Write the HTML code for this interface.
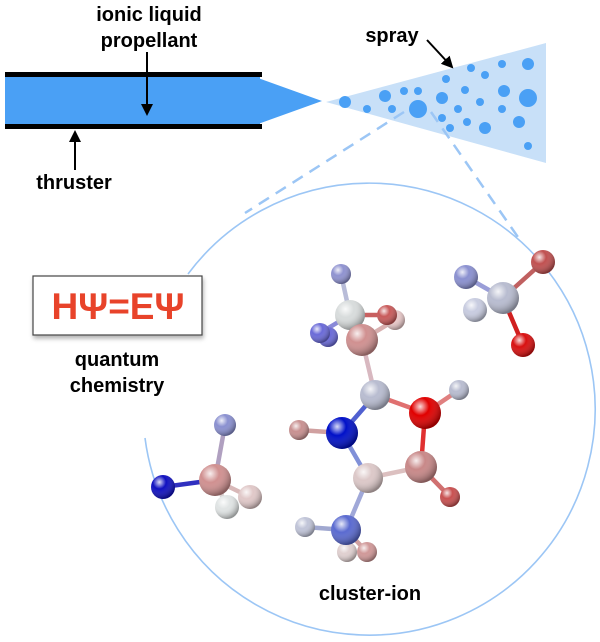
<!DOCTYPE html>
<html><head><meta charset="utf-8"><style>
body{margin:0;background:#fff;}
svg{display:block;font-family:"Liberation Sans",sans-serif;font-weight:bold;}
</style></head><body>
<svg width="600" height="642" viewBox="0 0 600 642" xmlns="http://www.w3.org/2000/svg">
<defs>
<marker id="ah" markerWidth="12" markerHeight="12" refX="10" refY="6" orient="auto" markerUnits="userSpaceOnUse"><path d="M0,0 L12,6 L0,12 z" fill="#000"/></marker>
<filter id="sh" x="-10%" y="-10%" width="130%" height="140%"><feDropShadow dx="1" dy="3" stdDeviation="2" flood-color="#000" flood-opacity="0.3"/></filter>
<radialGradient id="g" cx="35%" cy="30%" r="70%"><stop offset="0" stop-color="#fff" stop-opacity="0.85"/><stop offset="0.4" stop-color="#fff" stop-opacity="0"/><stop offset="1" stop-color="#000" stop-opacity="0.35"/></radialGradient>
</defs>
<rect x="5" y="77" width="255" height="48" fill="#4aa0f5"/>
<polygon points="258,78 258,124 322,101" fill="#4aa0f5"/>
<rect x="5" y="72" width="257" height="5" fill="#000"/>
<rect x="5" y="124" width="257" height="5" fill="#000"/>
<polygon points="326,102 546,43 546,163" fill="#c8e0f8"/>
<g fill="#4aa0f5">
<circle cx="345" cy="102" r="6"/><circle cx="367" cy="109" r="4"/><circle cx="385" cy="96" r="6"/><circle cx="392" cy="109" r="4"/><circle cx="404" cy="91" r="4"/><circle cx="418" cy="91" r="4"/><circle cx="418" cy="109" r="9"/><circle cx="442" cy="98" r="6"/><circle cx="442" cy="118" r="4"/><circle cx="446" cy="79" r="4"/><circle cx="450" cy="128" r="4"/><circle cx="458" cy="109" r="4"/><circle cx="465" cy="90" r="4"/><circle cx="467" cy="122" r="4"/><circle cx="471" cy="68" r="4"/><circle cx="480" cy="102" r="4"/><circle cx="485" cy="75" r="4"/><circle cx="485" cy="128" r="6"/><circle cx="502" cy="64" r="4"/><circle cx="504" cy="91" r="6"/><circle cx="502" cy="109" r="4"/><circle cx="519" cy="122" r="6"/><circle cx="528" cy="64" r="6"/><circle cx="528" cy="98" r="9"/><circle cx="528" cy="146" r="4"/>
</g>
<line x1="404" y1="112" x2="245" y2="213" stroke="#9cc6f5" stroke-width="2.5" stroke-dasharray="12,8"/>
<line x1="431" y1="112" x2="520" y2="240" stroke="#9cc6f5" stroke-width="2.5" stroke-dasharray="12,8"/>
<path d="M145,438 A226,226 0 1 0 188,274" fill="none" stroke="#9cc6f5" stroke-width="1.6"/>
<text x="149" y="21" font-size="20" text-anchor="middle">ionic liquid</text>
<text x="149" y="47" font-size="20" text-anchor="middle">propellant</text>
<line x1="147" y1="52" x2="147" y2="114" stroke="#000" stroke-width="2" marker-end="url(#ah)"/>
<line x1="75" y1="170" x2="75" y2="132" stroke="#000" stroke-width="2" marker-end="url(#ah)"/>
<text x="74" y="189" font-size="20" text-anchor="middle">thruster</text>
<text x="392" y="42" font-size="20" text-anchor="middle">spray</text>
<line x1="427" y1="40" x2="452" y2="67" stroke="#000" stroke-width="2" marker-end="url(#ah)"/>
<rect x="33" y="276" width="169" height="59" fill="#fff" stroke="#444" stroke-width="1.2" filter="url(#sh)"/>
<text x="118" y="319" font-size="37" fill="#e8432a" text-anchor="middle">HΨ=EΨ</text>
<text x="117" y="366" font-size="20" text-anchor="middle">quantum</text>
<text x="117" y="392" font-size="20" text-anchor="middle">chemistry</text>
<text x="370" y="600" font-size="20" text-anchor="middle">cluster-ion</text>
<g stroke-width="4.5" stroke-linecap="round">
<line x1="341" y1="274" x2="350" y2="315" stroke="#b8bcd8"/>
<line x1="350" y1="315" x2="320" y2="333" stroke="#8a8ad8"/>
<line x1="350" y1="315" x2="387" y2="315" stroke="#c86060"/>
<line x1="362" y1="340" x2="395" y2="320" stroke="#d8b0b0"/>
<line x1="362" y1="340" x2="375" y2="395" stroke="#d8b8c0"/>
<line x1="375" y1="395" x2="425" y2="413" stroke="#e07070"/>
<line x1="425" y1="413" x2="459" y2="390" stroke="#e08080"/>
<line x1="375" y1="395" x2="342" y2="433" stroke="#5060d0"/>
<line x1="342" y1="433" x2="299" y2="430" stroke="#d0a0a0"/>
<line x1="342" y1="433" x2="368" y2="478" stroke="#8090d8"/>
<line x1="425" y1="413" x2="421" y2="467" stroke="#e03030"/>
<line x1="368" y1="478" x2="421" y2="467" stroke="#dcc0c0"/>
<line x1="421" y1="467" x2="450" y2="497" stroke="#d07070"/>
<line x1="368" y1="478" x2="346" y2="530" stroke="#a0a8d8"/>
<line x1="346" y1="530" x2="305" y2="527" stroke="#a0a8d0"/>
<line x1="346" y1="530" x2="367" y2="552" stroke="#d0a0a0"/>
<line x1="225" y1="425" x2="215" y2="480" stroke="#b0a0c0"/>
<line x1="215" y1="480" x2="163" y2="487" stroke="#3030c0"/>
<line x1="215" y1="480" x2="250" y2="497" stroke="#d8b8b8"/>
<line x1="215" y1="480" x2="227" y2="507" stroke="#d8d0d0"/>
<line x1="466" y1="277" x2="503" y2="298" stroke="#9a9ed8"/>
<line x1="503" y1="298" x2="543" y2="262" stroke="#c06060"/>
<line x1="503" y1="298" x2="523" y2="345" stroke="#d02020"/>
</g>
<g>
<g><circle cx="341" cy="274" r="10" fill="#8f92d0"/><circle cx="341" cy="274" r="10" fill="url(#g)"/></g>
<g><circle cx="395" cy="320" r="10" fill="#e8c8c8"/><circle cx="395" cy="320" r="10" fill="url(#g)"/></g>
<g><circle cx="328" cy="337" r="10" fill="#6a6ad8"/><circle cx="328" cy="337" r="10" fill="url(#g)"/></g>
<g><circle cx="320" cy="333" r="10" fill="#6a6ad8"/><circle cx="320" cy="333" r="10" fill="url(#g)"/></g>
<g><circle cx="350" cy="315" r="15" fill="#d8dcdc"/><circle cx="350" cy="315" r="15" fill="url(#g)"/></g>
<g><circle cx="387" cy="315" r="10" fill="#c85a5a"/><circle cx="387" cy="315" r="10" fill="url(#g)"/></g>
<g><circle cx="362" cy="340" r="16" fill="#d09090"/><circle cx="362" cy="340" r="16" fill="url(#g)"/></g>
<g><circle cx="375" cy="395" r="15" fill="#b8bcd0"/><circle cx="375" cy="395" r="15" fill="url(#g)"/></g>
<g><circle cx="459" cy="390" r="10" fill="#b8bcd0"/><circle cx="459" cy="390" r="10" fill="url(#g)"/></g>
<g><circle cx="425" cy="413" r="16" fill="#e00000"/><circle cx="425" cy="413" r="16" fill="url(#g)"/></g>
<g><circle cx="299" cy="430" r="10" fill="#c89090"/><circle cx="299" cy="430" r="10" fill="url(#g)"/></g>
<g><circle cx="342" cy="433" r="16" fill="#0010c8"/><circle cx="342" cy="433" r="16" fill="url(#g)"/></g>
<g><circle cx="421" cy="467" r="16" fill="#c88888"/><circle cx="421" cy="467" r="16" fill="url(#g)"/></g>
<g><circle cx="368" cy="478" r="15" fill="#dcc8c8"/><circle cx="368" cy="478" r="15" fill="url(#g)"/></g>
<g><circle cx="450" cy="497" r="10" fill="#c85050"/><circle cx="450" cy="497" r="10" fill="url(#g)"/></g>
<g><circle cx="305" cy="527" r="10" fill="#c0c4d8"/><circle cx="305" cy="527" r="10" fill="url(#g)"/></g>
<g><circle cx="347" cy="552" r="10" fill="#e0d0d0"/><circle cx="347" cy="552" r="10" fill="url(#g)"/></g>
<g><circle cx="346" cy="530" r="15" fill="#5a6ad0"/><circle cx="346" cy="530" r="15" fill="url(#g)"/></g>
<g><circle cx="367" cy="552" r="10" fill="#d09898"/><circle cx="367" cy="552" r="10" fill="url(#g)"/></g>
<g><circle cx="225" cy="425" r="11" fill="#8a90d0"/><circle cx="225" cy="425" r="11" fill="url(#g)"/></g>
<g><circle cx="163" cy="487" r="12" fill="#1010c0"/><circle cx="163" cy="487" r="12" fill="url(#g)"/></g>
<g><circle cx="215" cy="480" r="16" fill="#d09090"/><circle cx="215" cy="480" r="16" fill="url(#g)"/></g>
<g><circle cx="250" cy="497" r="12" fill="#e0c8c8"/><circle cx="250" cy="497" r="12" fill="url(#g)"/></g>
<g><circle cx="227" cy="507" r="12" fill="#e0e4e4"/><circle cx="227" cy="507" r="12" fill="url(#g)"/></g>
<g><circle cx="466" cy="277" r="12" fill="#8a90d0"/><circle cx="466" cy="277" r="12" fill="url(#g)"/></g>
<g><circle cx="543" cy="262" r="12" fill="#c05050"/><circle cx="543" cy="262" r="12" fill="url(#g)"/></g>
<g><circle cx="475" cy="310" r="12" fill="#c8cce0"/><circle cx="475" cy="310" r="12" fill="url(#g)"/></g>
<g><circle cx="503" cy="298" r="16" fill="#b8bcd0"/><circle cx="503" cy="298" r="16" fill="url(#g)"/></g>
<g><circle cx="523" cy="345" r="12" fill="#d81010"/><circle cx="523" cy="345" r="12" fill="url(#g)"/></g>
</g>
</svg>
</body></html>
